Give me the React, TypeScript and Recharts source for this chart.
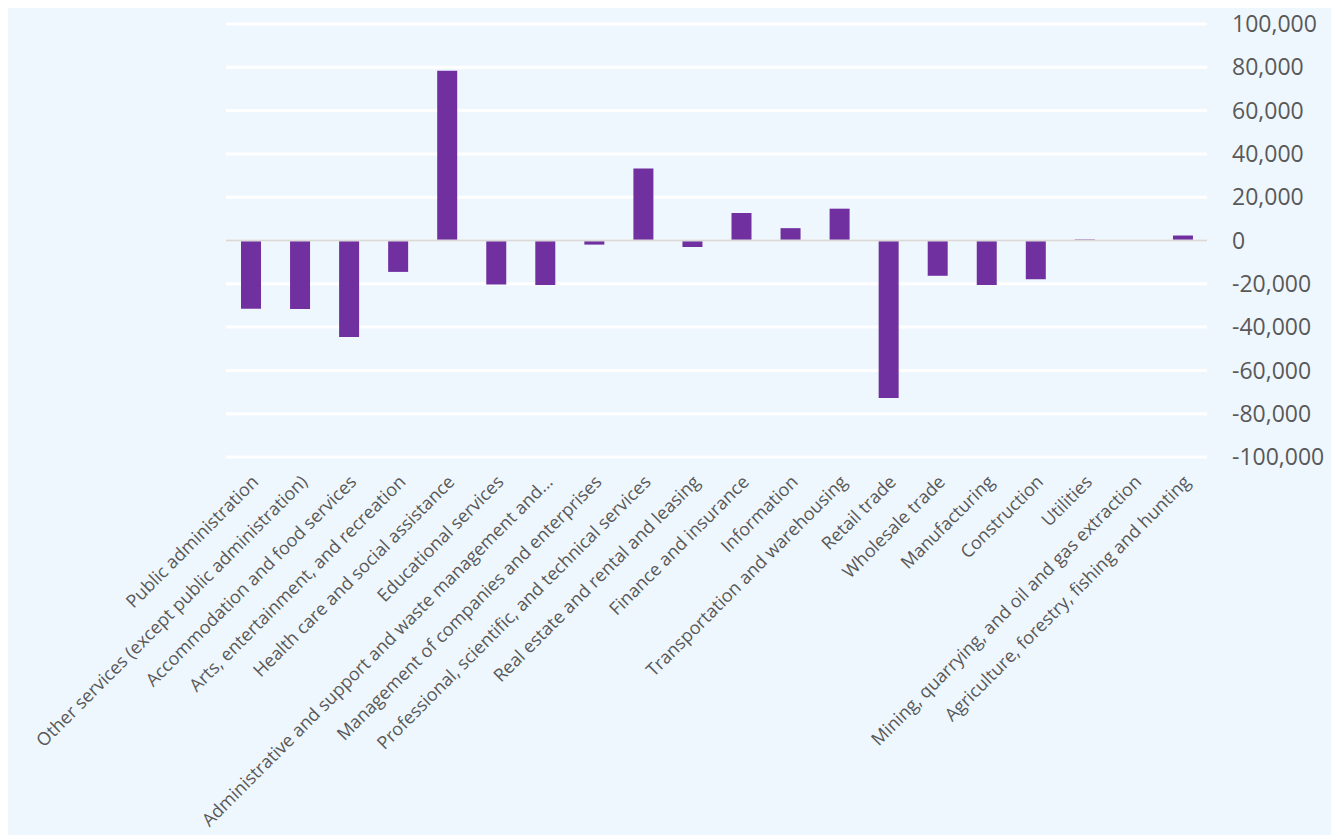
import React from 'react';
import { BarChart, Bar, XAxis, YAxis, CartesianGrid, ReferenceLine } from 'recharts';

const industries = [
  'Public administration',
  'Other services (except public administration)',
  'Accommodation and food services',
  'Arts, entertainment, and recreation',
  'Health care and social assistance',
  'Educational services',
  'Administrative and support and waste management and...',
  'Management of companies and enterprises',
  'Professional, scientific, and technical services',
  'Real estate and rental and leasing',
  'Finance and insurance',
  'Information',
  'Transportation and warehousing',
  'Retail trade',
  'Wholesale trade',
  'Manufacturing',
  'Construction',
  'Utilities',
  'Mining, quarrying, and oil and gas extraction',
  'Agriculture, forestry, fishing and hunting',
];

const change = [
  -31500, -31600, -44600, -14500, 78400, -20300, -20600, -1900, 33300, -3000,
  12700, 5700, 14700, -72800, -16300, -20500, -17900, 500, -150, 2300,
];

const yTicks = [-100000, -80000, -60000, -40000, -20000, 0, 20000, 40000, 60000, 80000, 100000];

const data = industries.map((name, i) => ({ name, value: change[i] }));

const fmt = (v: number) => v.toLocaleString('en-US');

const App: React.FC = () => {
  return (
    <div style={{ width: 1325, height: 827, background: '#EFF7FE' }}>
      <BarChart
        width={1325}
        height={827}
        data={data}
        margin={{ top: 16, right: 16, left: 218, bottom: 0 }}
      >
        <CartesianGrid vertical={false} stroke="#ffffff" strokeWidth={3} />
        <XAxis
          dataKey="name"
          interval={0}
          axisLine={false}
          tickLine={false}
          height={378}
          angle={-45}
          textAnchor="end"
          tickMargin={11}
          tick={{ fill: '#595959', fontSize: 18, fontFamily: 'Open Sans' }}
        />
        <YAxis
          orientation="right"
          domain={[-100000, 100000]}
          ticks={yTicks}
          tickFormatter={fmt}
          axisLine={false}
          tickLine={false}
          width={110}
          tickMargin={19}
          tick={{ fill: '#595959', fontSize: 23, fontFamily: 'Open Sans', textAnchor: 'start' }}
        />
        <ReferenceLine y={0} stroke="#D9D9D9" strokeWidth={2} />
        <Bar dataKey="value" fill="#7030A0" barSize={20} isAnimationActive={false} />
      </BarChart>
    </div>
  );
};

export default App;
